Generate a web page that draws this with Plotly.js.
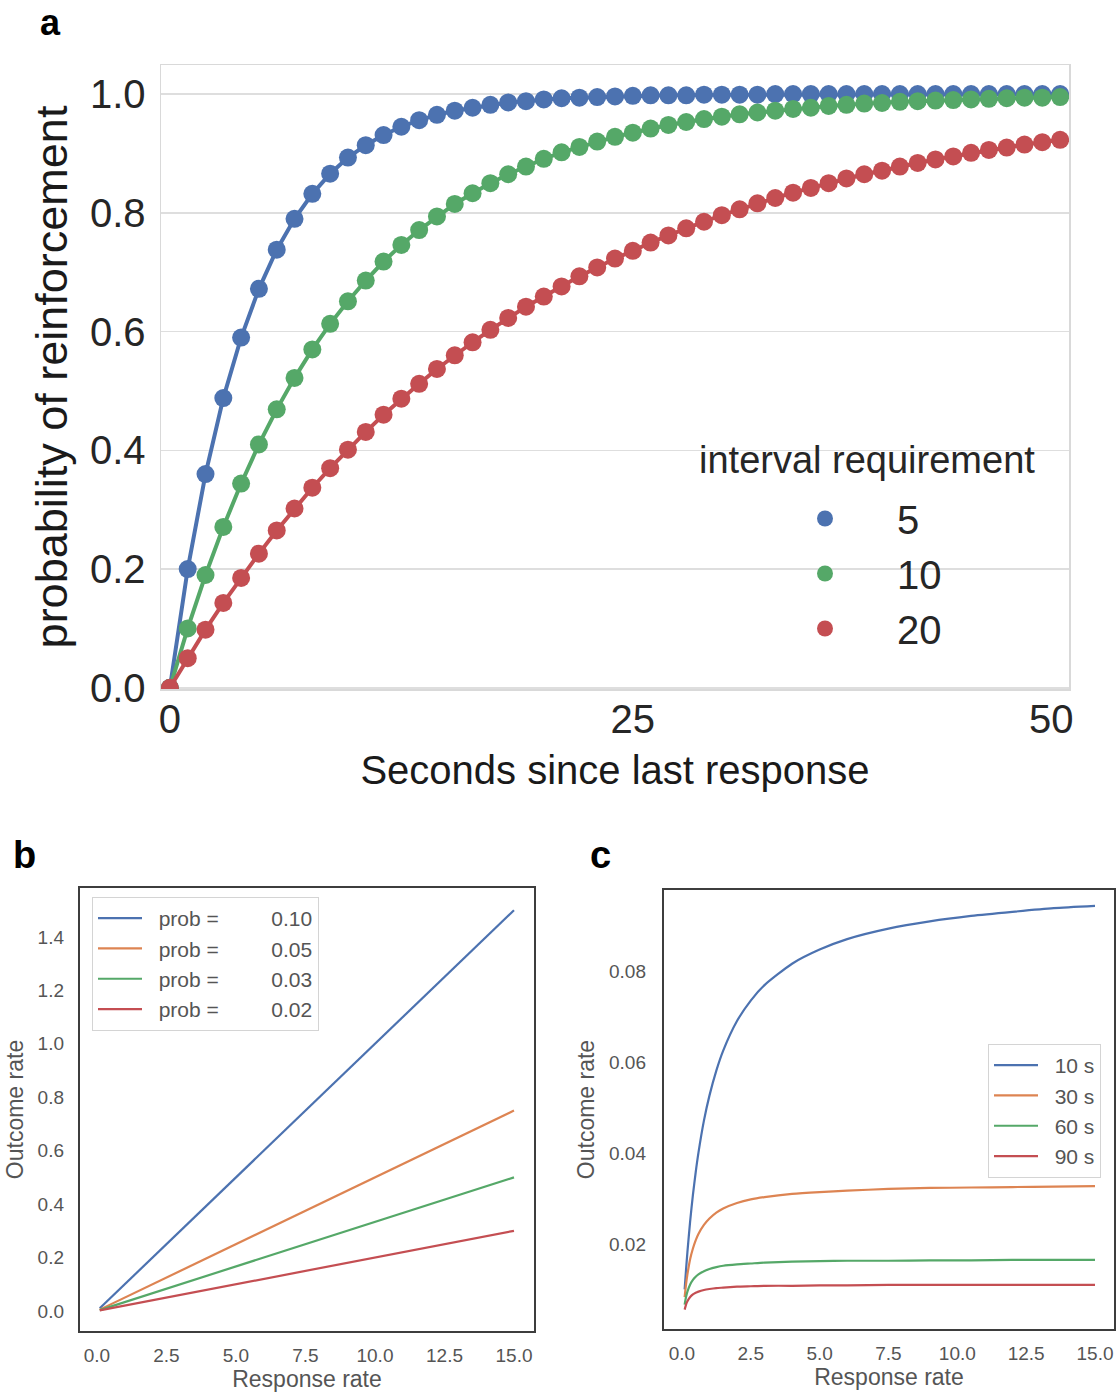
<!DOCTYPE html>
<html><head><meta charset="utf-8">
<script src="https://cdn.plot.ly/plotly-3.0.1.min.js"></script>
<style>body{margin:0;background:#fff}#chart{width:1119px;height:1395px}</style>
</head><body><div id="chart"></div>
<script>
// ---------- Panel a data ----------
const secondsSinceLastResponse = [0,1,2,3,4,5,6,7,8,9,10,11,12,13,14,15,16,17,18,19,20,21,22,23,24,25,26,27,28,29,30,31,32,33,34,35,36,37,38,39,40,41,42,43,44,45,46,47,48,49,50];
const intervalLabels = ["5", "10", "20"];
const probInterval5 = [0,0.2,0.36,0.488,0.59,0.672,0.738,0.79,0.832,0.866,0.893,0.914,0.931,0.945,0.956,0.965,0.972,0.977,0.982,0.986,0.988,0.991,0.993,0.994,0.995,0.996,0.997,0.998,0.998,0.998,0.999,0.999,0.999,0.999,1,1,1,1,1,1,1,1,1,1,1,1,1,1,1,1,1];
const probInterval10 = [0,0.1,0.19,0.271,0.344,0.41,0.469,0.522,0.57,0.613,0.651,0.686,0.718,0.746,0.771,0.794,0.815,0.833,0.85,0.865,0.878,0.891,0.902,0.911,0.92,0.928,0.935,0.942,0.948,0.953,0.958,0.962,0.966,0.969,0.972,0.975,0.977,0.98,0.982,0.984,0.985,0.987,0.988,0.989,0.99,0.991,0.992,0.993,0.994,0.994,0.995];
const probInterval20 = [0,0.05,0.098,0.143,0.185,0.226,0.265,0.302,0.337,0.37,0.401,0.431,0.46,0.487,0.512,0.537,0.56,0.582,0.603,0.623,0.642,0.659,0.676,0.693,0.708,0.723,0.736,0.75,0.762,0.774,0.785,0.796,0.806,0.816,0.825,0.834,0.842,0.85,0.858,0.865,0.871,0.878,0.884,0.89,0.895,0.901,0.906,0.91,0.915,0.919,0.923];
const xTickVals_a = [0, 26, 49.5];
const xTickText_a = ["0", "25", "50"];

// ---------- Panel b data ----------
const responseRate_b = [0.1, 2.5, 5, 7.5, 10, 12.5, 15];
const probLabels = ["0.10", "0.05", "0.03", "0.02"];
const outcomeProb010 = [0.01, 0.25, 0.5, 0.75, 1.0, 1.25, 1.5];
const outcomeProb005 = [0.005, 0.125, 0.25, 0.375, 0.5, 0.625, 0.75];
const outcomeProb003 = [0.0033, 0.083, 0.167, 0.25, 0.333, 0.417, 0.5];
const outcomeProb002 = [0.002, 0.05, 0.1, 0.15, 0.2, 0.25, 0.3];

// ---------- Panel c data ----------
const responseRate_c = [0.1,0.15,0.2,0.3,0.4,0.5,0.6,0.8,1.0,1.25,1.5,2,2.5,3,4,5,6,7.5,9,10.5,12,13.5,15];
const intervalSecLabels = ["10 s", "30 s", "60 s", "90 s"];
const outcome10s = [0.0100,0.0143,0.0182,0.0250,0.0308,0.0357,0.0400,0.0471,0.0526,0.0581,0.0625,0.0690,0.0735,0.0769,0.0816,0.0847,0.0870,0.0893,0.0909,0.0921,0.0930,0.0938,0.0943];
const outcome30s = [0.00833,0.0111,0.0133,0.0167,0.0190,0.0208,0.0222,0.0242,0.0256,0.0269,0.0278,0.0290,0.0298,0.0303,0.0310,0.0314,0.0317,0.0321,0.0323,0.0324,0.0325,0.0326,0.0327];
const outcome60s = [0.00667,0.00833,0.00952,0.0111,0.0121,0.0128,0.0133,0.0140,0.0145,0.0149,0.0152,0.0155,0.0157,0.0159,0.0161,0.0162,0.0163,0.0163,0.0164,0.0164,0.0165,0.0165,0.0165];
const outcome90s = [0.00556,0.00667,0.00741,0.00833,0.00889,0.00926,0.00952,0.00988,0.0101,0.0103,0.0104,0.0106,0.0107,0.0108,0.0108,0.0109,0.0109,0.0110,0.0110,0.0110,0.0110,0.0110,0.0110];
const xTicks_bc = [0, 2.5, 5, 7.5, 10, 12.5, 15];

// ---------- styling ----------
const W = 1119, H = 1395;
const FONT = "Liberation Sans, Arial, Helvetica, sans-serif";
const deep = {blue: "#4C72B0", orange: "#DD8452", green: "#55A868", red: "#C44E52"};
const px = v => v / W;
const py = v => 1 - v / H;
const NB = "\u00a0";

const traces = [];
const aSeries = [probInterval5, probInterval10, probInterval20];
const aColors = [deep.blue, deep.green, deep.red];
aSeries.forEach((ys, i) => {
  traces.push({type: "scatter", mode: "lines", x: secondsSinceLastResponse, y: ys,
    line: {color: aColors[i], width: 4}, showlegend: false, hoverinfo: "skip", xaxis: "x", yaxis: "y"});
  traces.push({type: "scatter", mode: "markers", x: secondsSinceLastResponse, y: ys, name: intervalLabels[i],
    legendgroup: "g" + i,
    marker: {color: aColors[i], size: 18}, legend: "legend", xaxis: "x", yaxis: "y"});
});

const bSeries = [outcomeProb010, outcomeProb005, outcomeProb003, outcomeProb002];
const bcColors = [deep.blue, deep.orange, deep.green, deep.red];
bSeries.forEach((ys, i) => {
  traces.push({type: "scatter", mode: "lines", x: responseRate_b, y: ys,
    name: NB + NB + "prob =" + NB.repeat(8) + " " + probLabels[i],
    line: {color: bcColors[i], width: 2.2}, legend: "legend2", xaxis: "x2", yaxis: "y2"});
});

const cSeries = [outcome10s, outcome30s, outcome60s, outcome90s];
cSeries.forEach((ys, i) => {
  traces.push({type: "scatter", mode: "lines", x: responseRate_c, y: ys, name: NB + NB + intervalSecLabels[i],
    line: {color: bcColors[i], width: 2.2, shape: "spline", smoothing: 0.6}, legend: "legend3", xaxis: "x3", yaxis: "y3"});
});

const darkText = "#262626";
const grayText = "#555555";

const layout = {
  width: W, height: H,
  margin: {l: 0, r: 0, t: 0, b: 0},
  paper_bgcolor: "#ffffff", plot_bgcolor: "#ffffff",
  font: {family: FONT, color: darkText},
  xaxis: {
    domain: [px(161), px(1069)], anchor: "y", range: [-0.5, 50.5],
    showgrid: false, zeroline: false, showline: true, mirror: true, linecolor: "#d9d9d9", linewidth: 1.5,
    tickvals: xTickVals_a, ticktext: xTickText_a, ticks: "", ticklabelstandoff: -6,
    tickfont: {size: 40, color: darkText},
    title: {text: "Seconds since last response", font: {size: 40, color: "#1a1a1a"}, standoff: 16}
  },
  yaxis: {
    domain: [py(689), py(65)], anchor: "x", range: [-0.002, 1.049],
    showgrid: true, gridcolor: "#dedede", gridwidth: 1.5, zeroline: false,
    showline: true, mirror: true, linecolor: "#d9d9d9", linewidth: 1.5,
    tickvals: [0, 0.2, 0.4, 0.6, 0.8, 1.0], tickformat: ".1f", ticks: "", ticklabelstandoff: 6,
    tickfont: {size: 40, color: darkText},
    title: {text: "probability of reinforcement", font: {size: 45, color: "#1a1a1a"}, standoff: 8}
  },
  xaxis2: {
    domain: [px(80), px(534)], anchor: "y2", range: [-0.61, 15.72],
    showgrid: false, zeroline: false, showline: true, mirror: true, linecolor: "#3d3d3d", linewidth: 2.2,
    tickvals: xTicks_bc, tickformat: ".1f", ticks: "", ticklabelstandoff: 6,
    tickfont: {size: 19, color: grayText},
    title: {text: "Response rate", font: {size: 23, color: grayText}, standoff: 2}
  },
  yaxis2: {
    domain: [py(1331), py(888)], anchor: "x2", range: [-0.075, 1.583],
    showgrid: false, zeroline: false, showline: true, mirror: true, linecolor: "#3d3d3d", linewidth: 2.2,
    tickvals: [0, 0.2, 0.4, 0.6, 0.8, 1.0, 1.2, 1.4], tickformat: ".1f", ticks: "", ticklabelstandoff: 10,
    tickfont: {size: 19, color: grayText},
    title: {text: "Outcome rate", font: {size: 23, color: grayText}, standoff: 8}
  },
  xaxis3: {
    domain: [px(664), px(1114)], anchor: "y3", range: [-0.65, 15.69],
    showgrid: false, zeroline: false, showline: true, mirror: true, linecolor: "#3d3d3d", linewidth: 2.2,
    tickvals: xTicks_bc, tickformat: ".1f", ticks: "", ticklabelstandoff: 6,
    tickfont: {size: 19, color: grayText},
    title: {text: "Response rate", font: {size: 23, color: grayText}, standoff: 2}
  },
  yaxis3: {
    domain: [py(1329), py(890)], anchor: "x3", range: [0.0013, 0.0978],
    showgrid: false, zeroline: false, showline: true, mirror: true, linecolor: "#3d3d3d", linewidth: 2.2,
    tickvals: [0.02, 0.04, 0.06, 0.08], tickformat: ".2f", ticks: "", ticklabelstandoff: 12,
    tickfont: {size: 19, color: grayText},
    title: {text: "Outcome rate", font: {size: 23, color: grayText}, standoff: 8}
  },
  legend: {
    x: px(753), y: py(486), xanchor: "left", yanchor: "top",
    bgcolor: "rgba(0,0,0,0)", borderwidth: 0, itemwidth: 134, tracegroupgap: 0,
    font: {size: 40, color: darkText}
  },
  legend2: {
    x: px(92), y: py(897), xanchor: "left", yanchor: "top",
    bgcolor: "#ffffff", bordercolor: "#d4d4d4", borderwidth: 1, itemwidth: 44,
    font: {size: 21, color: grayText}
  },
  legend3: {
    x: px(988), y: py(1044), xanchor: "left", yanchor: "top",
    bgcolor: "#ffffff", bordercolor: "#d4d4d4", borderwidth: 1, itemwidth: 44,
    font: {size: 21, color: grayText}
  },
  annotations: [
    {text: "<b>a</b>", xref: "paper", yref: "paper", x: px(50), y: py(0), showarrow: false, font: {size: 36, color: "#000"}, xanchor: "center", yanchor: "top"},
    {text: "<b>b</b>", xref: "paper", yref: "paper", x: px(24), y: py(855), showarrow: false, font: {size: 38, color: "#000"}, xanchor: "center", yanchor: "middle"},
    {text: "<b>c</b>", xref: "paper", yref: "paper", x: px(600), y: py(855), showarrow: false, font: {size: 38, color: "#000"}, xanchor: "center", yanchor: "middle"},
    {text: "interval requirement", xref: "paper", yref: "paper", x: px(697), y: py(460), showarrow: false, font: {size: 38, color: darkText}, xanchor: "left", yanchor: "middle"}
  ]
};

Plotly.newPlot("chart", traces, layout, {staticPlot: true, displayModeBar: false});
</script>
</body></html>
